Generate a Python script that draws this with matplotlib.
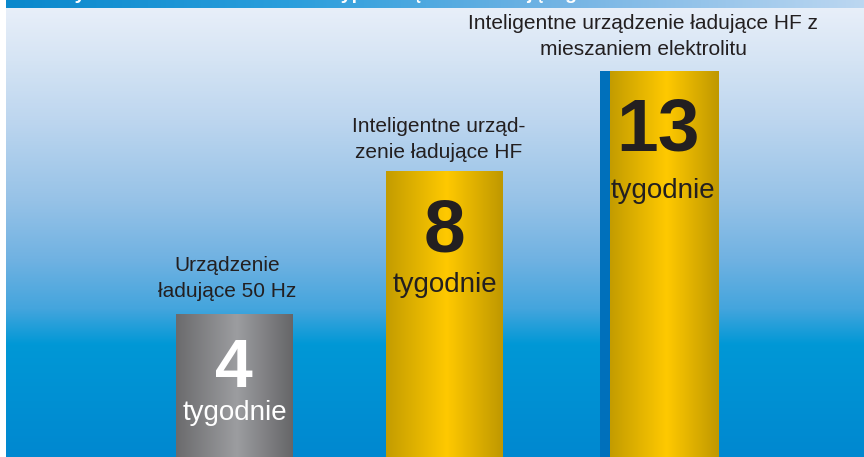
import numpy as np
import matplotlib
matplotlib.use("Agg")
import matplotlib.pyplot as plt
from matplotlib.colors import to_rgb

# Data
categories = ["Urządzenie\nładujące 50 Hz",
              "Inteligentne urząd-\nzenie ładujące HF",
              "Inteligentne urządzenie ładujące HF z\nmieszaniem elektrolitu"]
weeks = [4, 8, 13]
unit_label = "tygodnie"
# drawn heights (in weeks) - the last bar is cut short on the poster
bar_heights = [4.0, 8.0, 10.8]
title = "Czas życia baterii w zależności od typu urządzenia ładującego"

# Layout (pixel based, figure is 864 x 457)
W, H = 864, 457
y_max = 12.8
bar_x = [234.5, 444.5, 664.0]
bar_w = [117, 117, 109]
bar_styles = ["gray", "gold", "gold"]
num_size = [49, 54, 54]
num_dx = [-1, 0, -6]
num_dy = [-73, -80, -79]
unit_dy = [-106, -121, -127]
unit_dx = [0, 0, -1]
label_dx = [-7.5, -5.5, -21]
label_dy = [17, 13, 16]
line_step = 26

plt.rcParams["font.family"] = ["Liberation Sans", "DejaVu Sans"]


def gradient(stops, n):
    pos = [p for p, _ in stops]
    cols = np.array([to_rgb(c) for _, c in stops])
    t = np.linspace(0, 1, n)
    return np.stack([np.interp(t, pos, cols[:, i]) for i in range(3)], axis=-1)


bg_stops = [(0, "#e8eff9"), (0.116, "#d5e4f4"), (0.25, "#bdd6ef"), (0.43, "#96c2e7"),
            (0.56, "#70b2e2"), (0.67, "#44a5dd"), (0.75, "#0098d6"), (1, "#0088d0")]
head_stops = [(0, "#0a88cc"), (0.33, "#2a9edc"), (0.65, "#74b4e4"), (1, "#bcd7f1")]
fills = {
    "gray": [(0, "#6b6b6d"), (0.52, "#9c9da0"), (1, "#666668")],
    "gold": [(0, "#c39c00"), (0.52, "#ffc900"), (1, "#bf9800")],
}
text_col = {"gray": "white", "gold": "#231f20"}

fig = plt.figure(figsize=(W / 100, H / 100), dpi=100, facecolor="white")

# background panel and header strip
bg = fig.add_axes([0, 0, 1, 1])
bg.set_xlim(0, W)
bg.set_ylim(H, 0)
bg.axis("off")
bg.imshow(gradient(bg_stops, 400)[:, None, :], extent=[6, W, H, 8], aspect="auto")
bg.imshow(gradient(head_stops, 400)[None, :, :], extent=[6, W, 8, 0], aspect="auto")
head = plt.Rectangle((6, 0), W - 6, 8, facecolor="none", edgecolor="none")
bg.add_patch(head)
t = bg.text(14, -1, title, color="white", fontsize=14, fontweight="bold",
            va="baseline", ha="left")
t.set_clip_path(head)
bg.set_xlim(0, W)
bg.set_ylim(H, 0)

# bars
ax = fig.add_axes([0, 0, 1, 1], facecolor="none")
ax.set_xlim(0, W)
ax.set_ylim(0, y_max)
ax.axis("off")

bars = ax.bar(bar_x, bar_heights, width=bar_w, color="none", edgecolor="none")
for i, rect in enumerate(bars):
    x0 = rect.get_x()
    x1 = x0 + rect.get_width()
    img = ax.imshow(gradient(fills[bar_styles[i]], 200)[None, :, :],
                    extent=[x0, x1, 0, rect.get_height()], aspect="auto")
    img.set_clip_path(rect)

# blue accent strip on the last bar
last = bars[-1]
ax.bar(last.get_x() - 4.75, bar_heights[-1], width=9.5, color="#0070bb")
ax.set_xlim(0, W)
ax.set_ylim(0, y_max)

for i, rect in enumerate(bars):
    cx = bar_x[i]
    top = bar_heights[i]
    col = text_col[bar_styles[i]]
    ax.annotate(str(weeks[i]), (cx, top), xytext=(num_dx[i], num_dy[i]),
                textcoords="offset pixels", ha="center", va="baseline",
                fontsize=num_size[i], fontweight="bold", color=col)
    ax.annotate(unit_label, (cx, top), xytext=(unit_dx[i], unit_dy[i]),
                textcoords="offset pixels", ha="center", va="baseline",
                fontsize=20, color=col)
    lines = categories[i].split("\n")
    for j, line in enumerate(lines):
        dy = label_dy[i] + (len(lines) - 1 - j) * line_step
        ax.annotate(line, (cx, top), xytext=(label_dx[i], dy),
                    textcoords="offset pixels", ha="center", va="baseline",
                    fontsize=15, color="#231f20")

fig.savefig("out.png", dpi=100)
